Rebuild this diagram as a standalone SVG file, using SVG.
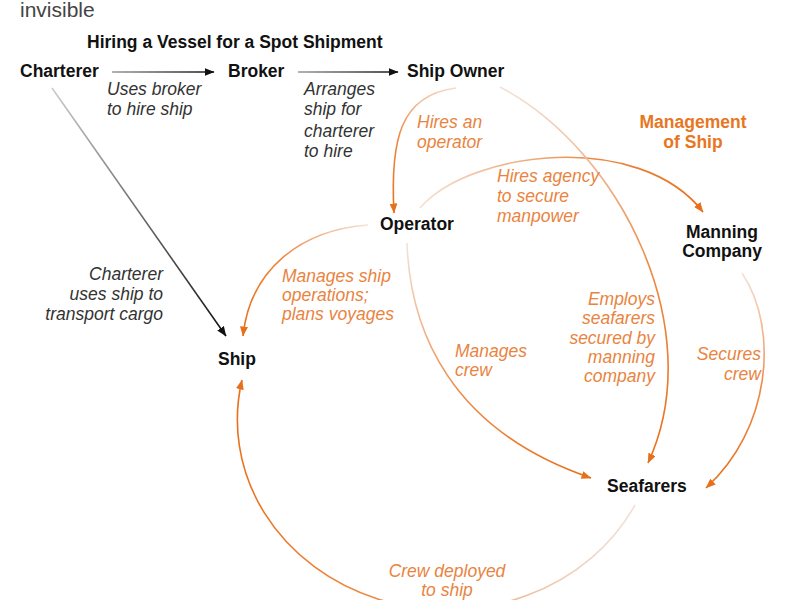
<svg xmlns="http://www.w3.org/2000/svg" width="800" height="600" viewBox="0 0 800 600">
<style>
text{font-family:"Liberation Sans",Arial,Helvetica,sans-serif;font-size:17.5px}
.node{font-weight:bold;fill:#111}
.lbl{font-style:italic;fill:#333}
.olbl{font-style:italic;fill:#e9843f}
.ohead{font-weight:bold;fill:#e8761f}
.conn path{fill:none;stroke-width:1.6}
</style>
<defs>
<marker id="ab" viewBox="0 0 10 8" refX="9.5" refY="4" markerUnits="userSpaceOnUse" markerWidth="10" markerHeight="8" orient="auto"><path d="M0,0 L10,4 L0,8 z" fill="#111"/></marker>
<marker id="ao" viewBox="0 0 10 8" refX="9.5" refY="4" markerUnits="userSpaceOnUse" markerWidth="10" markerHeight="8" orient="auto"><path d="M0,0 L10,4 L0,8 z" fill="#e8701a"/></marker>
<linearGradient id="g1" gradientUnits="userSpaceOnUse" x1="112" y1="72" x2="214" y2="72"><stop offset="0" stop-color="#999"/><stop offset="1" stop-color="#111"/></linearGradient>
<linearGradient id="g2" gradientUnits="userSpaceOnUse" x1="298" y1="72" x2="398" y2="72"><stop offset="0" stop-color="#999"/><stop offset="1" stop-color="#111"/></linearGradient>
<linearGradient id="g3" gradientUnits="userSpaceOnUse" x1="52" y1="88" x2="226" y2="336"><stop offset="0" stop-color="#ccc"/><stop offset="1" stop-color="#111"/></linearGradient>
<linearGradient id="g4" gradientUnits="userSpaceOnUse" x1="456" y1="88" x2="394" y2="213"><stop offset="0" stop-color="#f5ddcc"/><stop offset="0.5" stop-color="#ec8a45"/><stop offset="1" stop-color="#e8701a"/></linearGradient>
<linearGradient id="g5" gradientUnits="userSpaceOnUse" x1="420" y1="208" x2="703" y2="212"><stop offset="0" stop-color="#f5e3d6"/><stop offset="0.6" stop-color="#ec8a45"/><stop offset="1" stop-color="#e8701a"/></linearGradient>
<linearGradient id="g6" gradientUnits="userSpaceOnUse" x1="500" y1="87" x2="648" y2="463"><stop offset="0" stop-color="#f3e2d8"/><stop offset="0.55" stop-color="#ec8a45"/><stop offset="1" stop-color="#e8701a"/></linearGradient>
<linearGradient id="g7" gradientUnits="userSpaceOnUse" x1="407" y1="243" x2="591" y2="478"><stop offset="0" stop-color="#f3e2d8"/><stop offset="0.5" stop-color="#ec8a45"/><stop offset="1" stop-color="#e8701a"/></linearGradient>
<linearGradient id="g8" gradientUnits="userSpaceOnUse" x1="742" y1="273" x2="706" y2="488"><stop offset="0" stop-color="#f3e2d8"/><stop offset="0.5" stop-color="#ec8a45"/><stop offset="1" stop-color="#e8701a"/></linearGradient>
<linearGradient id="g9" gradientUnits="userSpaceOnUse" x1="368" y1="225" x2="243" y2="336"><stop offset="0" stop-color="#f5e3d6"/><stop offset="0.5" stop-color="#ec8a45"/><stop offset="1" stop-color="#e8701a"/></linearGradient>
<linearGradient id="g10" gradientUnits="userSpaceOnUse" x1="635" y1="505" x2="242" y2="380"><stop offset="0" stop-color="#f0e0d6"/><stop offset="0.5" stop-color="#ec8a45"/><stop offset="1" stop-color="#e8701a"/></linearGradient>
</defs>
<rect width="800" height="600" fill="#fff"/>
<text x="20" y="17" style="font-size:21px;fill:#444">invisible</text>
<text x="87" y="48" class="node">Hiring a Vessel for a Spot Shipment</text>
<g class="conn">
<path d="M112,72 L214,72" stroke="url(#g1)" marker-end="url(#ab)"/>
<path d="M298,72 L398,72" stroke="url(#g2)" marker-end="url(#ab)"/>
<path d="M52,88 L226,336" stroke="url(#g3)" marker-end="url(#ab)"/>
<path d="M456,88 C400,95 390,140 394,213" stroke="url(#g4)" marker-end="url(#ao)"/>
<path d="M420,208 C470,150 640,130 703,212" stroke="url(#g5)" marker-end="url(#ao)"/>
<path d="M500,87 C620,150 710,330 648,463" stroke="url(#g6)" marker-end="url(#ao)"/>
<path d="M407,243 C410,330 450,430 591,478" stroke="url(#g7)" marker-end="url(#ao)"/>
<path d="M742,273 C780,330 770,430 706,488" stroke="url(#g8)" marker-end="url(#ao)"/>
<path d="M368,225 C300,230 250,270 243,336" stroke="url(#g9)" marker-end="url(#ao)"/>
<path d="M635,505 A210,190 0 0 1 242,380" stroke="url(#g10)" marker-end="url(#ao)"/>
</g>
<g id="charterer"><text x="20" y="77" class="node">Charterer</text></g>
<g id="broker"><text x="228" y="77" class="node">Broker</text></g>
<g id="shipowner"><text x="407" y="77" class="node">Ship Owner</text></g>
<g id="operator"><text x="380" y="230" class="node">Operator</text></g>
<g id="manning"><text x="722" y="238" class="node" text-anchor="middle">Manning</text><text x="722" y="257" class="node" text-anchor="middle">Company</text></g>
<g id="ship"><text x="218" y="365" class="node">Ship</text></g>
<g id="seafarers"><text x="607" y="492" class="node">Seafarers</text></g>
<g id="management"><text x="693" y="128" class="ohead" text-anchor="middle">Management</text><text x="693" y="148" class="ohead" text-anchor="middle">of Ship</text></g>
<g id="labels">
<text x="107" y="95" class="lbl">Uses broker</text>
<text x="107" y="115" class="lbl">to hire ship</text>
<text x="304" y="95" class="lbl">Arranges</text>
<text x="304" y="115" class="lbl">ship for</text>
<text x="304" y="137" class="lbl">charterer</text>
<text x="304" y="157" class="lbl">to hire</text>
<text x="163" y="280" class="lbl" text-anchor="end">Charterer</text>
<text x="163" y="300" class="lbl" text-anchor="end">uses ship to</text>
<text x="163" y="320" class="lbl" text-anchor="end">transport cargo</text>
<text x="417" y="128" class="olbl">Hires an</text>
<text x="417" y="148" class="olbl">operator</text>
<text x="497" y="182" class="olbl">Hires agency</text>
<text x="497" y="202" class="olbl">to secure</text>
<text x="497" y="222" class="olbl">manpower</text>
<text x="282" y="282" class="olbl">Manages ship</text>
<text x="282" y="301" class="olbl">operations;</text>
<text x="282" y="320" class="olbl">plans voyages</text>
<text x="455" y="357" class="olbl">Manages</text>
<text x="455" y="376" class="olbl">crew</text>
<text x="655" y="305" class="olbl" text-anchor="end">Employs</text>
<text x="655" y="324" class="olbl" text-anchor="end">seafarers</text>
<text x="655" y="344" class="olbl" text-anchor="end">secured by</text>
<text x="655" y="363" class="olbl" text-anchor="end">manning</text>
<text x="655" y="382" class="olbl" text-anchor="end">company</text>
<text x="761" y="360" class="olbl" text-anchor="end">Secures</text>
<text x="761" y="380" class="olbl" text-anchor="end">crew</text>
<text x="447" y="577" class="olbl" text-anchor="middle">Crew deployed</text>
<text x="447" y="596" class="olbl" text-anchor="middle">to ship</text>
</g>
</svg>
